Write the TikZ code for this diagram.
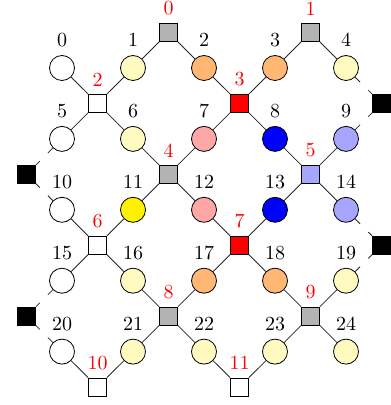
\documentclass[tikz,border=0pt]{standalone}
\begin{document}
\definecolor{lyel}{RGB}{255,250,192}
\definecolor{oran}{RGB}{255,183,115}
\definecolor{pinkc}{RGB}{255,166,166}
\definecolor{lblue}{RGB}{166,166,255}
\definecolor{grayc}{RGB}{179,179,179}
\tikzset{
 site/.style={circle,draw=black,minimum size=12.5pt,inner sep=0pt,line width=0.4pt},
 plaq/.style={rectangle,draw=black,minimum size=9pt,inner sep=0pt,line width=0.4pt},
 edge/.style={draw=black!85,line width=0.4pt},
 bnd/.style={edge,dash pattern=on 3.5pt off 5.8pt on 3.5pt off 30pt},
 num/.style={font=\fontsize{10}{12}\selectfont,inner sep=0pt},
 rnum/.style={num,text=red}
}
\begin{tikzpicture}[x=0.5pt,y=-0.5pt]
\useasboundingbox (0,0) rectangle (390,405);
% sites
\foreach \n/\col in {0/white,1/lyel,2/oran,3/oran,4/lyel,
  5/white,6/lyel,7/pinkc,8/blue,9/lblue,
  10/white,11/yellow,12/pinkc,13/blue,14/lblue,
  15/white,16/lyel,17/oran,18/oran,19/lyel,
  20/white,21/lyel,22/lyel,23/lyel,24/lyel}{
  \pgfmathtruncatemacro\r{int(\n/5)}
  \pgfmathtruncatemacro\c{\n-5*\r}
  \node[site,fill=\col] (c\n) at ({62+71*\c},{68+70.9*\r}) {};
  \node[num] (lc\n) at ({62+71*\c},{68+70.9*\r-28}) {\n};
}
% plaquettes
\foreach \n/\a/\b/\col in {0/1/0/grayc,1/3/0/grayc,2/0/1/white,3/2/1/red,
  4/1/2/grayc,5/3/2/lblue,6/0/3/white,7/2/3/red,8/1/4/grayc,9/3/4/grayc,
  10/0/5/white,11/2/5/white}{
  \node[plaq,fill=\col] (s\n) at ({97.5+71*\a},{32.5+70.9*\b}) {};
  \node[rnum] (ls\n) at ({97.5+71*\a},{32.5+70.9*\b-24}) {\n};
}
% boundary blacks
\foreach \nm/\a/\b in {bl1/-1/2,bl2/-1/4,br1/4/1,br2/4/3}{
  \node[plaq,fill=black] (\nm) at ({97.5+71*\a},{32.5+70.9*\b}) {};
}
% edges
\foreach \s/\cs in {0/{1,2},1/{3,4},2/{0,1,5,6},3/{2,3,7,8},4/{6,7,11,12},
  5/{8,9,13,14},6/{10,11,15,16},7/{12,13,17,18},8/{16,17,21,22},
  9/{18,19,23,24},10/{20,21},11/{22,23}}{
  \foreach \c in \cs { \draw[edge] (c\c) -- (s\s); }
}
\foreach \c/\b in {5/bl1,10/bl1,15/bl2,20/bl2,4/br1,9/br1,14/br2,19/br2}{
  \draw[bnd] (c\c) -- (\b);
}
\end{tikzpicture}
\end{document}
